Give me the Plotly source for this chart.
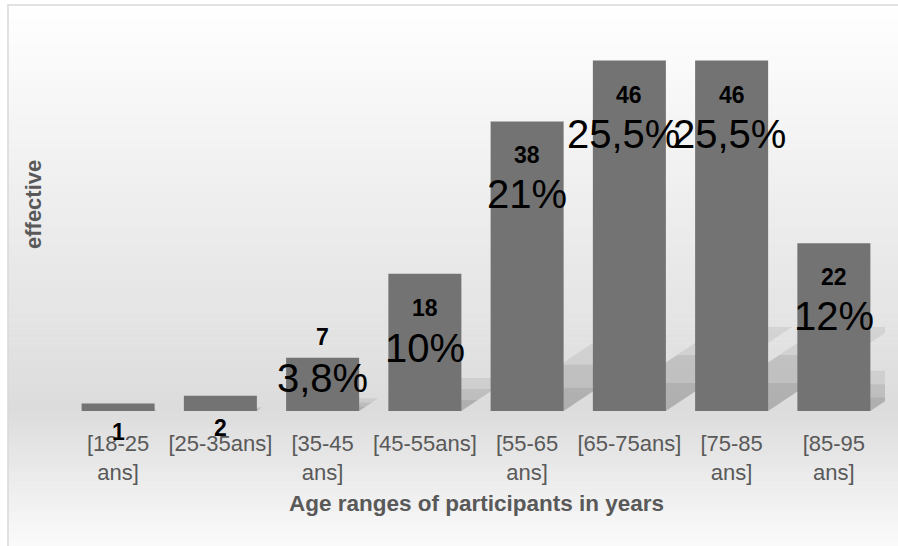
import plotly.graph_objects as go

# ---------------- data ----------------
categories = ["[18-25<br>ans]", "[25-35ans]", "[35-45<br>ans]", "[45-55ans]",
              "[55-65<br>ans]", "[65-75ans]", "[75-85<br>ans]", "[85-95<br>ans]"]
counts = [1, 2, 7, 18, 38, 46, 46, 22]
percent_labels = [None, None, "3,8%", "10%", "21%", "25,5%", "25,5%", "12%"]
x_title = "Age ranges of participants in years"
y_title = "effective"

# ---------------- style / layout ----------------
W, H = 898, 546
ML, MR, MT, MB = 67, 13, 30, 135
PW, PH = W - ML - MR, H - MT - MB
YMAX = 50
FONT = "Arial, Liberation Sans, sans-serif"
BAR_COLOR = "#737373"
TEXT_GRAY = "#595959"
BAR_WIDTH = 0.714

# label offsets (px) relative to bar top
value_shift = [-29, -32, 21, -34, -34, -35, -35, -34]
pct_shift = [0, 0, -20, -74, -73, -74, -74, -73]
pct_xshift = [0, 0, 0, 0, 0, -6, -2, 0]

def px_to_paper_x(px):
    return (px - ML) / PW

def px_to_paper_y(py):
    return (H - MB - py) / PH

xs = list(range(len(categories)))

fig = go.Figure()
fig.add_trace(go.Bar(x=xs, y=counts, width=BAR_WIDTH,
                     marker=dict(color=BAR_COLOR, line=dict(width=0)),
                     hoverinfo="skip"))

shapes = []
# background gradient (white -> light gray near baseline -> white)
top_px, base_px, bot_px = 5, 410, 552
n = 110
for i in range(n):
    y0 = top_px + (bot_px - top_px) * i / n
    y1 = top_px + (bot_px - top_px) * (i + 1) / n
    ym = (y0 + y1) / 2
    if ym <= base_px:
        c = 255 - (255 - 220) * (ym - top_px) / (base_px - top_px)
    else:
        c = 220 + (252 - 220) * (ym - base_px) / (bot_px - base_px)
    c = int(round(c))
    shapes.append(dict(type="rect", xref="paper", yref="paper", layer="below",
                       x0=px_to_paper_x(8), x1=px_to_paper_x(W + 2),
                       y0=px_to_paper_y(y1 + 0.5), y1=px_to_paper_y(y0),
                       fillcolor=f"rgb({c},{c},{c})", line=dict(width=0)))

# perspective shadows behind bars (layered for a soft look)
px_per_unit = PH / YMAX
px_per_cat = PW / len(categories)
for xi, v in zip(xs, counts):
    for k, op in ((0.24, 0.07), (0.16, 0.07), (0.08, 0.07)):
        hs = k * v                    # data units
        dx = (hs * px_per_unit * 1.5) / px_per_cat
        l, r = xi - BAR_WIDTH / 2, xi + BAR_WIDTH / 2
        path = (f"M {l},0 L {r},0 L {r + dx},{hs} L {l + dx},{hs} Z")
        shapes.append(dict(type="path", xref="x", yref="y", layer="below",
                           path=path, fillcolor=f"rgba(0,0,0,{op})",
                           line=dict(width=0)))

# chart frame
shapes.append(dict(type="rect", xref="paper", yref="paper", layer="above",
                   x0=px_to_paper_x(8), x1=px_to_paper_x(W + 5),
                   y0=px_to_paper_y(H + 5), y1=px_to_paper_y(5),
                   line=dict(color="#d9d9d9", width=1.5)))

annotations = []
for xi, v, vs in zip(xs, counts, value_shift):
    annotations.append(dict(x=xi, y=v, xref="x", yref="y", text=f"<b>{v}</b>",
                            showarrow=False, yshift=vs, yanchor="middle",
                            font=dict(family=FONT, size=23, color="#000000")))
for xi, v, p, ps, pxs in zip(xs, counts, percent_labels, pct_shift, pct_xshift):
    if p is None:
        continue
    annotations.append(dict(x=xi, y=v, xref="x", yref="y", text=p,
                            showarrow=False, yshift=ps, xshift=pxs, yanchor="middle",
                            font=dict(family=FONT, size=40, color="#000000")))

annotations.append(dict(x=px_to_paper_x(476), y=px_to_paper_y(503), xref="paper", yref="paper",
                        text=f"<b>{x_title}</b>", showarrow=False,
                        xanchor="center", yanchor="middle",
                        font=dict(family=FONT, size=22.5, color=TEXT_GRAY)))
annotations.append(dict(x=px_to_paper_x(33), y=px_to_paper_y(205), xref="paper", yref="paper",
                        text=f"<b>{y_title}</b>", showarrow=False, textangle=-90,
                        xanchor="center", yanchor="middle",
                        font=dict(family=FONT, size=22, color=TEXT_GRAY)))

fig.update_layout(
    width=W, height=H, autosize=False,
    margin=dict(l=ML, r=MR, t=MT, b=MB, pad=0),
    paper_bgcolor="white", plot_bgcolor="rgba(0,0,0,0)",
    showlegend=False,
    shapes=shapes, annotations=annotations,
    xaxis=dict(range=[-0.5, len(categories) - 0.5], tickmode="array",
               tickvals=xs, ticktext=categories, showgrid=False, zeroline=False,
               showline=False, ticks="", ticklabelstandoff=17,
               tickfont=dict(family=FONT, size=22, color=TEXT_GRAY), fixedrange=True),
    yaxis=dict(range=[0, YMAX], visible=False, showgrid=False, zeroline=False,
               fixedrange=True),
)

fig.write_html("out.html")
